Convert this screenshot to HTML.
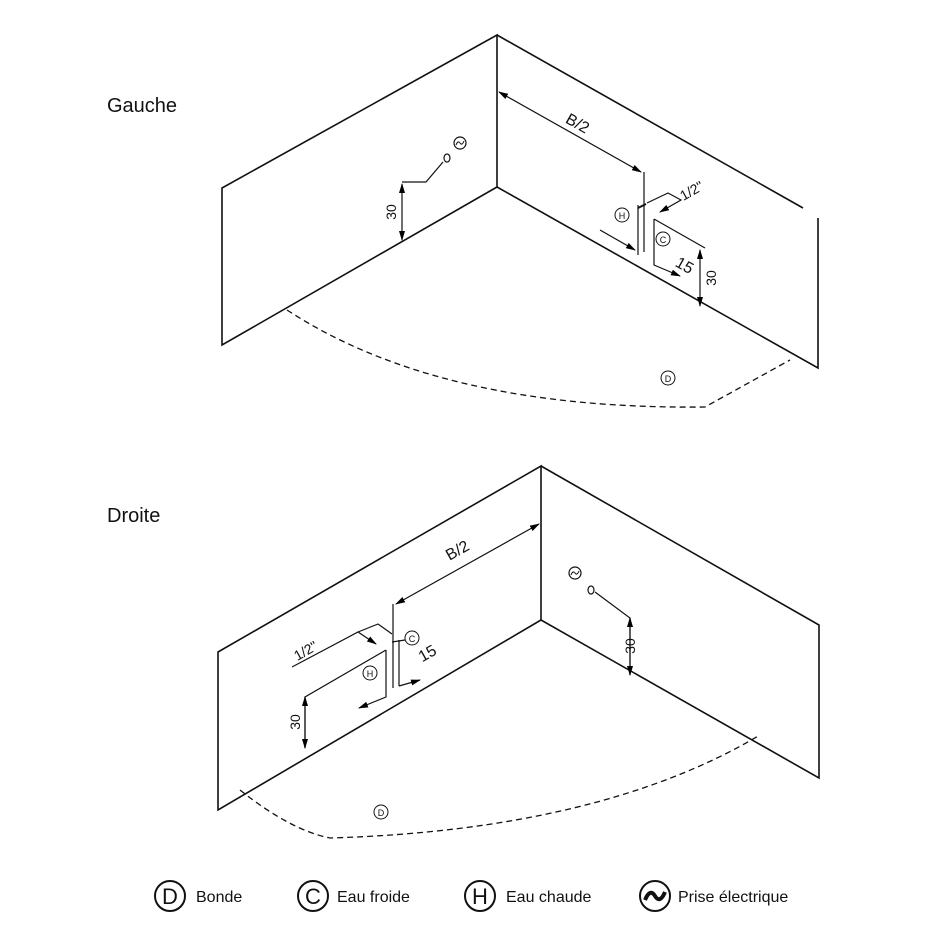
<!DOCTYPE html>
<html><head><meta charset="utf-8"><style>
html,body{margin:0;padding:0;background:#fff;}
svg{display:block;font-family:"Liberation Sans",sans-serif;}
</style></head><body>
<svg width="941" height="940" viewBox="0 0 941 940" xmlns="http://www.w3.org/2000/svg">
<defs>
<marker id="a" markerWidth="10" markerHeight="6" refX="9" refY="3" orient="auto" markerUnits="userSpaceOnUse"><path d="M0,0 L10,3 L0,6 z" fill="#000"/></marker>
<marker id="b" markerWidth="10" markerHeight="6" refX="1" refY="3" orient="auto" markerUnits="userSpaceOnUse"><path d="M10,0 L0,3 L10,6 z" fill="#000"/></marker>
</defs>
<g stroke="#111" stroke-width="1.6" fill="none">
<!-- TOP -->
<path d="M222,188 L497,35 L497,187 L222,345 Z"/>
<path d="M497,35 L803,208"/>
<path d="M818,218 L818,368 L497,187"/>
<path d="M287,310 Q440,410 705,407 L790,360" stroke-dasharray="6,4" stroke-width="1.3"/>
<!-- outlet top -->
<path d="M443,162 L426,182 L402,182" stroke-width="1.2"/>
<path d="M402,184 L402,240" marker-start="url(#b)" marker-end="url(#a)" stroke-width="1.2"/>
<!-- B/2 -->
<path d="M499,92 L641,172" marker-start="url(#b)" marker-end="url(#a)" stroke-width="1.2"/>
<path d="M644,172 L644,252 M638,205 L638,255" stroke-width="1.2"/>
<path d="M600,230 L635,250" stroke-width="1.2" marker-end="url(#a)"/>
<path d="M638,208 L646,204" stroke-width="2"/>
<path d="M647,203 L668,193 L681,200 L660,212" stroke-width="1.2" marker-end="url(#a)"/>
<path d="M654,219 L654,265 L680,276" stroke-width="1.2" marker-end="url(#a)"/>
<path d="M654,219 L705,248" stroke-width="1.2"/>
<path d="M700,250 L700,306" marker-start="url(#b)" marker-end="url(#a)" stroke-width="1.2"/>
<!-- BOTTOM -->
<path d="M218,652 L541,466 L541,620 L218,810 Z"/>
<path d="M541,466 L819,625 L819,778 L541,620"/>
<path d="M240,790 Q290,830 330,838 Q600,830 760,735" stroke-dasharray="6,4" stroke-width="1.3"/>
<path d="M595,592 L630,618 L630,675" stroke-width="1.2"/>
<path d="M630,618 L630,675" marker-start="url(#b)" marker-end="url(#a)" stroke-width="1.2"/>
<path d="M539,524 L396,604" marker-start="url(#b)" marker-end="url(#a)" stroke-width="1.2"/>
<path d="M393,604 L393,688 M399,640 L399,686" stroke-width="1.2"/>
<path d="M292,667 L358,632 L376,644" stroke-width="1.2" marker-end="url(#a)"/>
<path d="M358,632 L378,624 L392,634" stroke-width="1.2"/>
<path d="M392,642 L405,640" stroke-width="1.2"/>
<path d="M386,650 L305,697 L305,748" stroke-width="1.2"/>
<path d="M305,697 L305,748" marker-start="url(#b)" marker-end="url(#a)" stroke-width="1.2"/>
<path d="M386,650 L386,697 L359,708" stroke-width="1.2" marker-end="url(#a)"/>
<path d="M399,686 L420,680" stroke-width="1.2" marker-end="url(#a)"/>
<!-- small circles -->
<circle cx="460" cy="143" r="6" stroke-width="1.2"/>
<ellipse cx="447" cy="158" rx="3" ry="4" stroke-width="1.2"/>
<circle cx="622" cy="215" r="7" stroke-width="1"/>
<circle cx="663" cy="239" r="7" stroke-width="1"/>
<circle cx="668" cy="378" r="7" stroke-width="1"/>
<circle cx="575" cy="573" r="6" stroke-width="1.2"/>
<ellipse cx="591" cy="590" rx="3" ry="4" stroke-width="1.2"/>
<circle cx="370" cy="673" r="7" stroke-width="1"/>
<circle cx="412" cy="638" r="7" stroke-width="1"/>
<circle cx="381" cy="812" r="7" stroke-width="1"/>
<path d="M456,145 q2,-5 4,-2 t4,-2" stroke-width="1"/>
<path d="M571,575 q2,-5 4,-2 t4,-2" stroke-width="1"/>
<!-- legend circles -->
<circle cx="170" cy="896" r="15" stroke-width="2"/>
<circle cx="313" cy="896" r="15" stroke-width="2"/>
<circle cx="480" cy="896" r="15" stroke-width="2"/>
<circle cx="655" cy="896" r="15" stroke-width="2"/>
<path d="M645,900 Q650,888 655,896 Q660,904 665,892" stroke-width="4"/>
</g>
<g fill="#111" font-size="20">
<text x="107" y="112">Gauche</text>
<text x="107" y="522">Droite</text>
<text transform="translate(575,128) rotate(29.5)" font-size="16" text-anchor="middle">B/2</text>
<text transform="translate(460,555) rotate(-29.5)" font-size="16" text-anchor="middle">B/2</text>
<text transform="translate(396,212) rotate(-90)" font-size="14" text-anchor="middle">30</text>
<text transform="translate(716,278) rotate(-90)" font-size="14" text-anchor="middle">30</text>
<text transform="translate(635,646) rotate(-90)" font-size="14" text-anchor="middle">30</text>
<text transform="translate(300,722) rotate(-90)" font-size="14" text-anchor="middle">30</text>
<text transform="translate(682,270) rotate(29.5)" font-size="16" text-anchor="middle">15</text>
<text transform="translate(430,658) rotate(-29.5)" font-size="16" text-anchor="middle">15</text>
<text transform="translate(694,195) rotate(-29.5)" font-size="14" text-anchor="middle">1/2"</text>
<text transform="translate(308,655) rotate(-29.5)" font-size="14" text-anchor="middle">1/2"</text>
<g font-size="9" text-anchor="middle">
<text x="622" y="219">H</text><text x="663" y="243">C</text><text x="668" y="382">D</text>
<text x="370" y="677">H</text><text x="412" y="642">C</text><text x="381" y="816">D</text>
</g>
<g font-size="22" text-anchor="middle">
<text x="170" y="904">D</text><text x="313" y="904">C</text><text x="480" y="904">H</text>
</g>
<g font-size="16">
<text x="196" y="902">Bonde</text>
<text x="337" y="902">Eau froide</text>
<text x="506" y="902">Eau chaude</text>
<text x="678" y="902">Prise électrique</text>
</g>
</g>
</svg>
</body></html>
